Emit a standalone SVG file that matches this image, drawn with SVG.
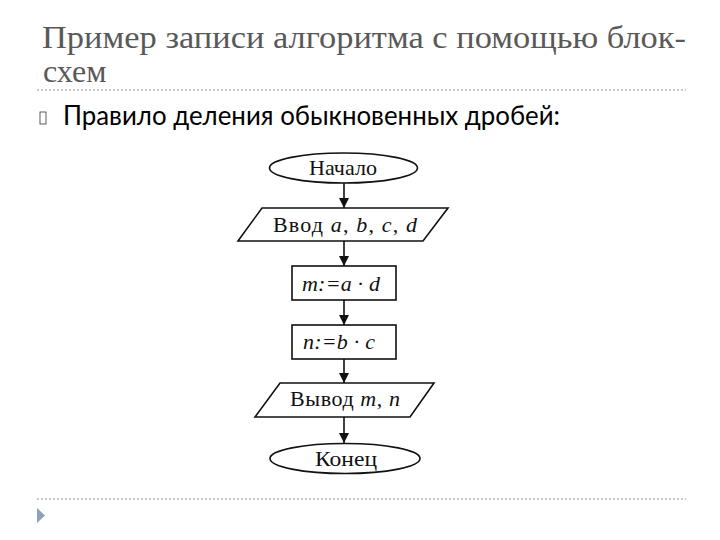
<svg xmlns="http://www.w3.org/2000/svg" width="720" height="540" viewBox="0 0 720 540">
<defs>
<marker id="arr" viewBox="0 0 10 10" refX="10" refY="5" markerWidth="10" markerHeight="10" markerUnits="userSpaceOnUse" orient="auto">
<path d="M0,0 L10,5 L0,10 z" fill="#111"/>
</marker>
<style>
.title{font-family:"Liberation Serif",serif;font-size:32px;fill:#595959}
.sub{font-family:"Lato","Open Sans",sans-serif;font-size:27px;fill:#000}
.fc{font-family:"Liberation Serif",serif;font-size:22px;fill:#111}
.it{font-style:italic}
.shape{fill:#fff;stroke:#111;stroke-width:1.6}
.conn{stroke:#111;stroke-width:1.6;fill:none;marker-end:url(#arr)}
.dots{stroke:#c8c8c8;stroke-width:2;stroke-dasharray:2 2}
</style>
</defs>
<rect width="720" height="540" fill="#fff"/>
<text class="title" x="42" y="48" textLength="644" lengthAdjust="spacingAndGlyphs">Пример записи алгоритма с помощью блок-</text>
<text class="title" x="43" y="82">схем</text>
<line class="dots" x1="37" y1="90" x2="686" y2="90"/>
<rect x="40" y="112" width="6" height="12" fill="none" stroke="#333" stroke-width="0.8"/>
<text class="sub" x="63" y="125" textLength="497" lengthAdjust="spacingAndGlyphs">Правило деления обыкновенных дробей:</text>
<line class="dots" x1="37" y1="499" x2="686" y2="499"/>
<path d="M37,508 L45,515.5 L37,523 z" fill="#8da0bd"/>

<g id="connectors">
<line class="conn" x1="344" y1="183" x2="344" y2="208"/>
<line class="conn" x1="344" y1="241" x2="344" y2="266"/>
<line class="conn" x1="344" y1="300" x2="344" y2="325"/>
<line class="conn" x1="344" y1="359" x2="344" y2="383"/>
<line class="conn" x1="344" y1="417" x2="344" y2="443"/>
</g>

<g id="start">
<ellipse class="shape" cx="343.5" cy="168" rx="74" ry="15"/>
<text class="fc" x="309" y="175" textLength="68" lengthAdjust="spacingAndGlyphs">Начало</text>
</g>
<g id="input">
<polygon class="shape" points="262,208 448,208 423,241 238,241"/>
<text class="fc" x="273" y="232" textLength="144">Ввод <tspan class="it">a</tspan>, <tspan class="it">b</tspan>, <tspan class="it">c</tspan>, <tspan class="it">d</tspan></text>
</g>
<g id="calc-m">
<rect class="shape" x="292" y="266" width="104" height="34"/>
<text class="fc it" x="302" y="291" textLength="78">m:=a · d</text>
</g>
<g id="calc-n">
<rect class="shape" x="292" y="325" width="104" height="34"/>
<text class="fc it" x="303" y="349" textLength="72">n:=b · c</text>
</g>
<g id="output">
<polygon class="shape" points="280,383 434,383 410,417 255,417"/>
<text class="fc" x="290" y="406" textLength="110">Вывод <tspan class="it">m</tspan>, <tspan class="it">n</tspan></text>
</g>
<g id="end">
<ellipse class="shape" cx="345" cy="458.5" rx="75" ry="15"/>
<text class="fc" x="315" y="466" textLength="62" lengthAdjust="spacingAndGlyphs">Конец</text>
</g>
</svg>
